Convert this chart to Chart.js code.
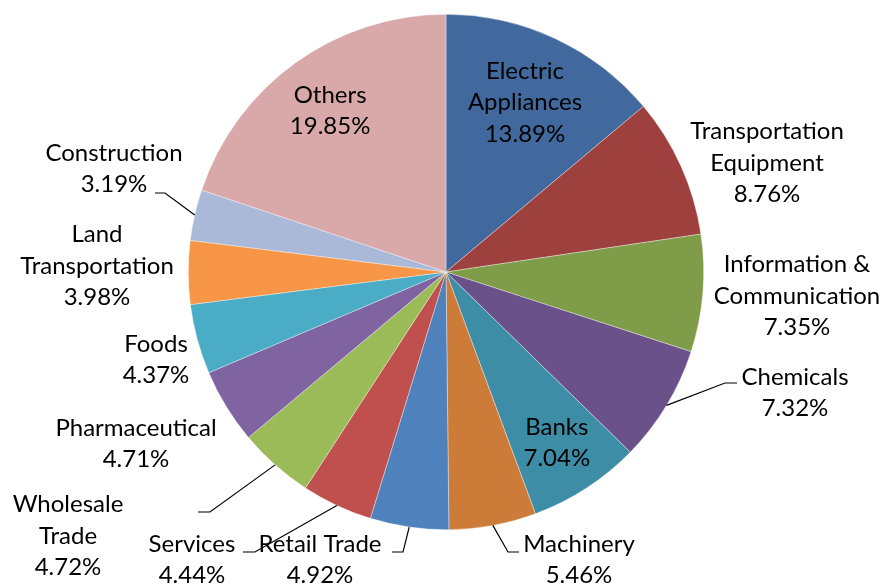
<!DOCTYPE html>
<html>
<head>
<meta charset="utf-8">
<script src="https://cdn.jsdelivr.net/npm/chart.js@4.4.1/dist/chart.umd.min.js"></script>
<style>
    html, body { margin: 0; padding: 0; background: #ffffff; }
    #wrap { width: 883px; height: 586px; }
</style>
</head>
<body>
<div id="wrap"><canvas id="pie-chart" width="883" height="586"></canvas></div>
<script>
// Sector shares (%), clockwise from 12 o'clock
const sectors = [
    ['Electric', 'Appliances'],
    ['Transportation', 'Equipment'],
    ['Information &', 'Communication'],
    ['Chemicals'],
    ['Banks'],
    ['Machinery'],
    ['Retail Trade'],
    ['Services'],
    ['Wholesale', 'Trade'],
    ['Pharmaceutical'],
    ['Foods'],
    ['Land', 'Transportation'],
    ['Construction'],
    ['Others']
];
const shares = [13.89, 8.76, 7.35, 7.32, 7.04, 5.46, 4.92, 4.44, 4.72, 4.71, 4.37, 3.98, 3.19, 19.85];
const sliceColors = [
    '#41699D', '#9E413E', '#7F9C48', '#6A5189', '#3C8DA5', '#CC7B38', '#4F81BD',
    '#C0504D', '#9BBB59', '#8064A2', '#4BACC6', '#F79646', '#AAB9D7', '#D9A9A9'
];

// label placement: inside labels use a radius fraction on the slice mid angle,
// outside labels use an offset from the pie centre (px)
const labelPlace = [
    { r: 0.725 }, { dx: 321, dy: -109 }, { dx: 351, dy: 24 }, { dx: 349, dy: 121 },
    { r: 0.79 }, { dx: 133, dy: 288 }, { dx: -126, dy: 288 }, { dx: -254, dy: 288 },
    { dx: -378, dy: 264 }, { dx: -310, dy: 172 }, { dx: -290, dy: 88 }, { dx: -349, dy: -6 },
    { dx: -332, dy: -103 }, { r: 0.77 }
];
// leader lines: [tipX, elbowX, y] relative to label centre
const leaders = {
    3: [-58, -70, -10],
    5: [-60, -71, -8],
    6: [72, 83, -8],
    7: [51, 63, -8],
    8: [130, 142, -24],
    12: [41, 51, 24]
};

const FONT = '24px Lato';
const LINE_H = 31.5;

const labelPlugin = {
    id: 'sliceLabels',
    afterDatasetsDraw(chart) {
        const ctx = chart.ctx;
        const arcs = chart.getDatasetMeta(0).data;
        ctx.save();
        ctx.font = FONT;
        ctx.fillStyle = '#000000';
        ctx.strokeStyle = '#000000';
        ctx.lineWidth = 1.2;
        ctx.textAlign = 'center';
        ctx.textBaseline = 'middle';
        arcs.forEach((arc, i) => {
            const p = arc.getProps(['x', 'y', 'startAngle', 'endAngle', 'outerRadius'], true);
            const mid = (p.startAngle + p.endAngle) / 2;
            const place = labelPlace[i];
            let lx, ly;
            if (place.r !== undefined) {
                lx = p.x + Math.cos(mid) * p.outerRadius * place.r;
                ly = p.y + Math.sin(mid) * p.outerRadius * place.r;
            } else {
                lx = p.x + place.dx;
                ly = p.y + place.dy;
            }
            const lines = sectors[i].concat([shares[i].toFixed(2) + '%']);
            const top = ly - (lines.length - 1) * LINE_H / 2;
            lines.forEach((t, k) => ctx.fillText(t, lx, top + k * LINE_H));

            const ld = leaders[i];
            if (ld) {
                const ax = p.x + Math.cos(mid) * p.outerRadius;
                const ay = p.y + Math.sin(mid) * p.outerRadius;
                ctx.beginPath();
                ctx.moveTo(lx + ld[0], ly + ld[2]);
                ctx.lineTo(lx + ld[1], ly + ld[2]);
                ctx.lineTo(ax, ay);
                ctx.stroke();
            }
        });
        ctx.restore();
    }
};

let pieChart = null;
function createPieChart() {
    const ctx = document.getElementById('pie-chart').getContext('2d');
    pieChart = new Chart(ctx, {
        type: 'pie',
        data: {
            labels: sectors.map(s => s.join(' ')),
            datasets: [{
                data: shares,
                backgroundColor: sliceColors,
                borderColor: 'rgba(255, 255, 255, 0.6)',
                borderWidth: 0.6,
                hoverOffset: 0
            }]
        },
        options: {
            responsive: false,
            animation: false,
            layout: {
                padding: { top: 14, bottom: 56, left: 9, right: 0 }
            },
            plugins: {
                legend: { display: false },
                tooltip: { enabled: false }
            }
        },
        plugins: [labelPlugin]
    });
    return pieChart;
}

createPieChart();
</script>
</body>
</html>
